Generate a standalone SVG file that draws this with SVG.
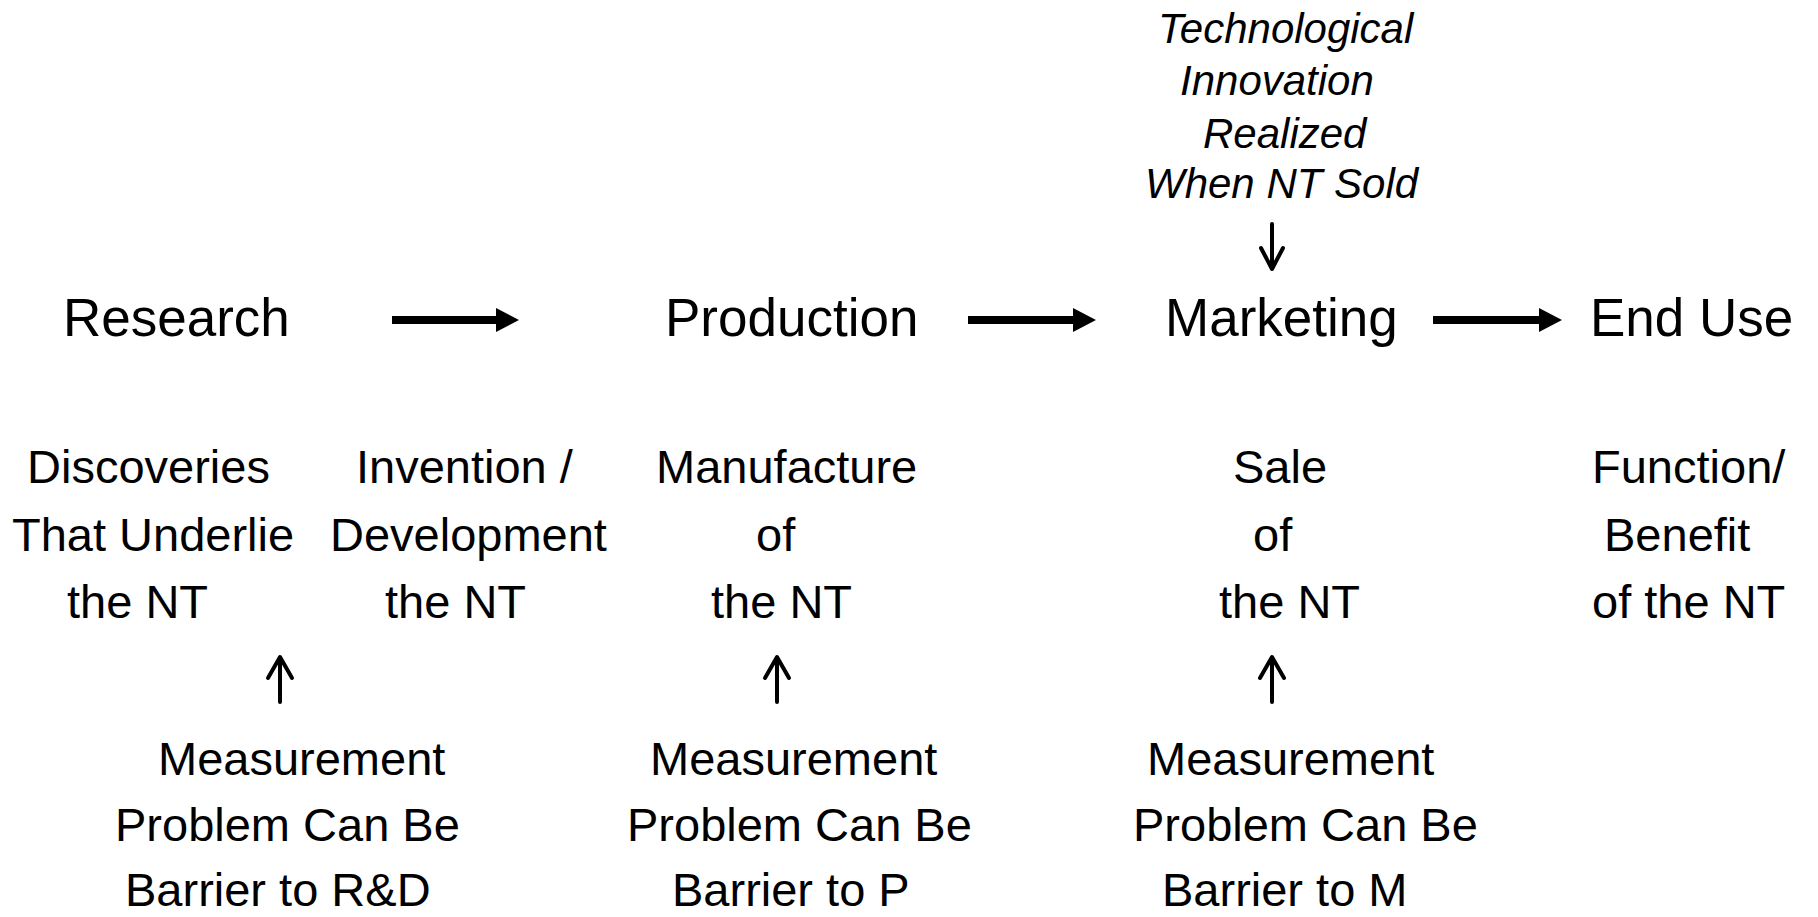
<svg xmlns="http://www.w3.org/2000/svg" width="1818" height="917" viewBox="0 0 1818 917">
<style>
text{font-family:"Liberation Sans",Arial,sans-serif;fill:#000}
.it{font-size:42px;font-style:italic}
.main{font-size:53px}
.sub{font-size:47px}
.thick{stroke:#000;stroke-width:8;fill:none}
.thin{stroke:#000;stroke-width:4;fill:none;stroke-linecap:round;stroke-linejoin:round}
</style>
<rect width="1818" height="917" fill="#fff"/>
<g id="note-innovation">
<text class="it" x="1158" y="43">Technological</text>
<text class="it" x="1180" y="95">Innovation</text>
<text class="it" x="1203" y="148">Realized</text>
<text class="it" x="1145" y="198">When NT Sold</text>
</g>
<g id="research"><text class="main" x="63" y="336">Research</text></g>
<g id="production"><text class="main" x="665" y="336">Production</text></g>
<g id="marketing"><text class="main" x="1165" y="336">Marketing</text></g>
<g id="enduse"><text class="main" x="1590" y="336">End Use</text></g>
<g id="discoveries">
<text class="sub" x="27" y="483">Discoveries</text>
<text class="sub" x="12" y="551">That Underlie</text>
<text class="sub" x="67" y="618">the NT</text>
</g>
<g id="invention">
<text class="sub" x="356" y="483">Invention /</text>
<text class="sub" x="330" y="551">Development</text>
<text class="sub" x="385" y="618">the NT</text>
</g>
<g id="manufacture">
<text class="sub" x="656" y="483">Manufacture</text>
<text class="sub" x="756" y="551">of</text>
<text class="sub" x="711" y="618">the NT</text>
</g>
<g id="sale">
<text class="sub" x="1233" y="483">Sale</text>
<text class="sub" x="1253" y="551">of</text>
<text class="sub" x="1219" y="618">the NT</text>
</g>
<g id="function">
<text class="sub" x="1592" y="483">Function/</text>
<text class="sub" x="1604" y="551">Benefit</text>
<text class="sub" x="1592" y="618">of the NT</text>
</g>
<g id="barrier-rd">
<text class="sub" x="158" y="775">Measurement</text>
<text class="sub" x="115" y="841">Problem Can Be</text>
<text class="sub" x="125" y="906">Barrier to R&amp;D</text>
</g>
<g id="barrier-p">
<text class="sub" x="650" y="775">Measurement</text>
<text class="sub" x="627" y="841">Problem Can Be</text>
<text class="sub" x="672" y="906">Barrier to P</text>
</g>
<g id="barrier-m">
<text class="sub" x="1147" y="775">Measurement</text>
<text class="sub" x="1133" y="841">Problem Can Be</text>
<text class="sub" x="1162" y="906">Barrier to M</text>
</g>
<g id="connectors">
<line class="thick" x1="392" y1="320" x2="498" y2="320"/>
<polygon points="496,308 519,320 496,332"/>
<line class="thick" x1="968" y1="320" x2="1075" y2="320"/>
<polygon points="1073,308 1096,320 1073,332"/>
<line class="thick" x1="1433" y1="320" x2="1541" y2="320"/>
<polygon points="1539,308 1562,320 1539,332"/>
<path class="thin" d="M1272,224 V268 M1261,248 L1272,269 L1283,248"/>
<path class="thin" d="M280,702 V658 M268,678 L280,657 L292,678"/>
<path class="thin" d="M777,702 V658 M765,678 L777,657 L789,678"/>
<path class="thin" d="M1272,702 V658 M1260,678 L1272,657 L1284,678"/>
</g>
</svg>
